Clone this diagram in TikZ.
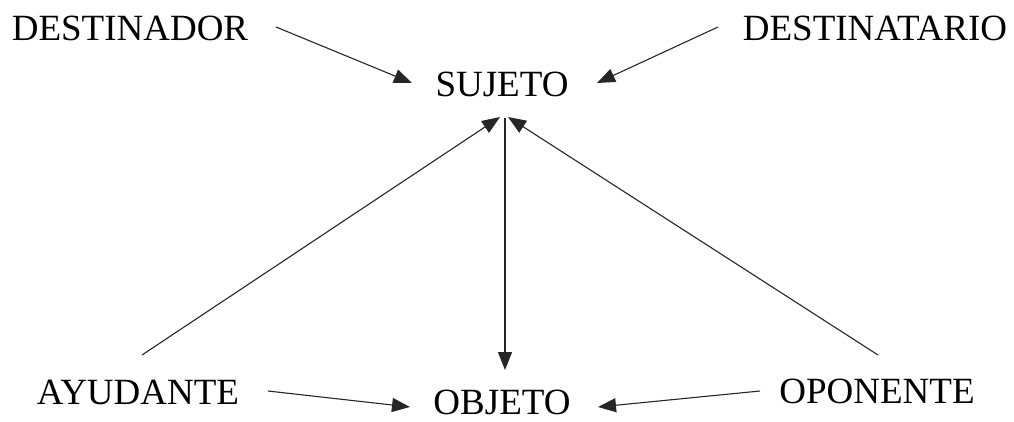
\documentclass[tikz,border=0pt]{standalone}
\usepackage{fontspec}
\setmainfont{Liberation Serif}
\usetikzlibrary{arrows.meta,calc}
\begin{document}
\begin{tikzpicture}[x=1pt,y=-1pt,
  lbl/.style={inner sep=0pt, anchor=base, font=\fontsize{37}{44}\selectfont},
  link/.style={line width=1.1pt, draw=black!85, -{Triangle[length=18pt,width=14pt]}}]
\useasboundingbox (0,0) rectangle (1014,421);
% actants
\node[lbl] (dest) at (130,40) {DESTINADOR};
\node[lbl] (dtar) at (875,40) {DESTINATARIO};
\node[lbl] (suj) at (502,96) {SUJETO};
\node[lbl] (ayu) at (138,404) {AYUDANTE};
\node[lbl] (obj) at (502,414) {OBJETO};
\node[lbl] (opo) at (877,403) {OPONENTE};
% connectors
\draw[link] ($(dest.base)+(146,-13)$) -- ($(suj.base)+(-90,-13)$);
\draw[link] ($(dtar.base)+(-157,-13)$) -- ($(suj.base)+(95,-13)$);
\draw[link] ($(ayu.base)+(4,-49)$) -- ($(suj.base)+(-2,21)$);
\draw[link] ($(opo.base)+(1,-48)$) -- ($(suj.base)+(6,21)$);
\draw[link] ($(suj.base)+(3,22)$) -- ($(obj.base)+(3,-44)$);
\draw[link] ($(ayu.base)+(130,-13)$) -- ($(obj.base)+(-92,-7)$);
\draw[link] ($(opo.base)+(-117,-12)$) -- ($(obj.base)+(96,-7)$);
\end{tikzpicture}
\end{document}
